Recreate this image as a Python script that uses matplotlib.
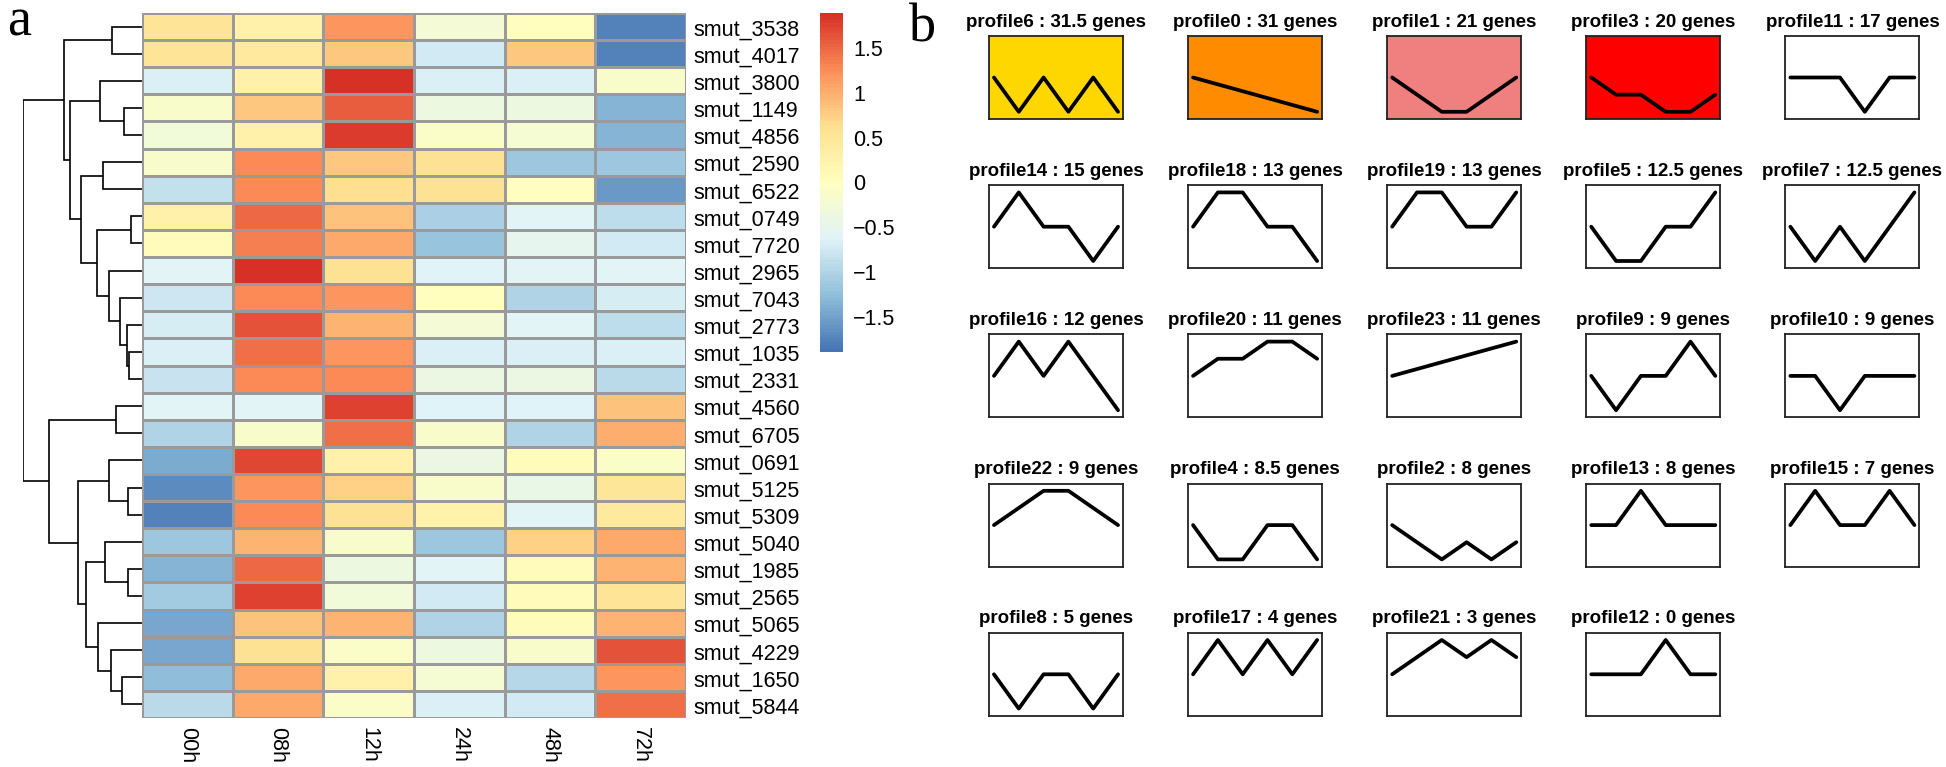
import numpy as np
import matplotlib
matplotlib.use("Agg")
import matplotlib.pyplot as plt
from matplotlib.colors import LinearSegmentedColormap, Normalize
from matplotlib.cm import ScalarMappable
from matplotlib.transforms import offset_copy

# ---------------- data ----------------
genes = ["smut_3538", "smut_4017", "smut_3800", "smut_1149", "smut_4856",
         "smut_2590", "smut_6522", "smut_0749", "smut_7720", "smut_2965",
         "smut_7043", "smut_2773", "smut_1035", "smut_2331", "smut_4560",
         "smut_6705", "smut_0691", "smut_5125", "smut_5309", "smut_5040",
         "smut_1985", "smut_2565", "smut_5065", "smut_4229", "smut_1650",
         "smut_5844"]
timepoints = ["00h", "08h", "12h", "24h", "48h", "72h"]

expr = [
    [0.55, 0.30, 1.20, -0.25, 0.00, -1.75],
    [0.55, 0.45, 0.80, -0.72, 0.80, -1.75],
    [-0.68, 0.30, 1.90, -0.68, -0.65, -0.15],
    [-0.15, 0.80, 1.55, -0.35, -0.35, -1.35],
    [-0.30, 0.30, 1.80, -0.10, -0.20, -1.35],
    [-0.15, 1.25, 0.80, 0.60, -1.15, -1.15],
    [-0.85, 1.25, 0.62, 0.60, 0.02, -1.55],
    [0.30, 1.50, 0.85, -1.05, -0.60, -0.90],
    [0.05, 1.35, 1.05, -1.20, -0.50, -0.75],
    [-0.60, 1.90, 0.60, -0.62, -0.60, -0.60],
    [-0.78, 1.25, 1.20, 0.00, -1.00, -0.70],
    [-0.70, 1.65, 0.95, -0.25, -0.58, -0.90],
    [-0.68, 1.45, 1.20, -0.66, -0.65, -0.68],
    [-0.82, 1.25, 1.25, -0.40, -0.40, -0.92],
    [-0.58, -0.60, 1.75, -0.62, -0.62, 0.85],
    [-1.00, -0.15, 1.45, -0.15, -1.00, 1.00],
    [-1.40, 1.72, 0.30, -0.40, 0.05, -0.10],
    [-1.70, 1.20, 0.72, -0.12, -0.45, 0.50],
    [-1.75, 1.25, 0.60, 0.25, -0.60, 0.45],
    [-1.15, 0.95, -0.15, -1.15, 0.75, 1.05],
    [-1.35, 1.50, -0.35, -0.60, 0.05, 0.95],
    [-1.12, 1.75, -0.30, -0.75, 0.05, 0.55],
    [-1.45, 0.85, 0.95, -1.00, 0.05, 0.95],
    [-1.45, 0.60, -0.08, -0.35, -0.15, 1.65],
    [-1.25, 1.05, 0.30, -0.20, -0.98, 1.20],
    [-0.92, 1.05, -0.10, -0.68, -0.72, 1.45],
]

# row dendrogram: (child_a, child_b, height); leaves 0..25, clusters 26..
merges = [
    (0, 1, 30), (3, 4, 18), (2, 27, 42), (5, 6, 39), (7, 8, 11),
    (12, 13, 13), (11, 31, 15), (10, 32, 22), (9, 33, 33), (30, 34, 45),
    (29, 35, 61), (28, 36, 72), (26, 37, 78), (14, 15, 26), (17, 18, 14),
    (16, 40, 33), (20, 21, 14), (19, 42, 37), (24, 25, 20), (23, 44, 31),
    (22, 45, 44), (43, 46, 56), (41, 47, 64), (39, 48, 93), (38, 49, 119),
]

cbar_ticks = [-1.5, -1, -0.5, 0, 0.5, 1, 1.5]
cbar_labels = ["\u22121.5", "\u22121", "\u22120.5", "0", "0.5", "1", "1.5"]
value_range = (-1.89, 1.89)
palette = ["#4575B4", "#91BFDB", "#E0F3F8", "#FFFFBF", "#FEE090", "#FC8D59", "#D73027"]

profile_ids = [6, 0, 1, 3, 11, 14, 18, 19, 5, 7, 16, 20, 23, 9, 10, 22, 4, 2, 13, 15, 8, 17, 21, 12]
profile_counts = [31.5, 31, 21, 20, 17, 15, 13, 13, 12.5, 12.5, 12, 11, 11, 9, 9, 9, 8.5, 8, 8, 7, 5, 4, 3, 0]
profile_values = [
    [0, -1, 0, -1, 0, -1],
    [0, -1, -2, -3, -4, -5],
    [0, -1, -2, -2, -1, 0],
    [0, -1, -1, -2, -2, -1],
    [0, 0, 0, -1, 0, 0],
    [0, 1, 0, 0, -1, 0],
    [0, 1, 1, 0, 0, -1],
    [0, 1, 1, 0, 0, 1],
    [0, -1, -1, 0, 0, 1],
    [0, -1, 0, -1, 0, 1],
    [0, 1, 0, 1, 0, -1],
    [0, 1, 1, 2, 2, 1],
    [0, 1, 2, 3, 4, 5],
    [0, -1, 0, 0, 1, 0],
    [0, 0, -1, 0, 0, 0],
    [0, 1, 2, 2, 1, 0],
    [0, -1, -1, 0, 0, -1],
    [0, -1, -2, -1, -2, -1],
    [0, 0, 1, 0, 0, 0],
    [0, 1, 0, 0, 1, 0],
    [0, -1, 0, 0, -1, 0],
    [0, 1, 0, 1, 0, 1],
    [0, 1, 2, 1, 2, 1],
    [0, 0, 0, 1, 0, 0],
]
profile_colors = ["#FFD700", "#FF8C00", "#F08080", "#FF0000"] + ["white"] * 20

# ---------------- figure ----------------
W, H, DPI = 1946, 767, 100
fig = plt.figure(figsize=(W / DPI, H / DPI), dpi=DPI)
fig.patch.set_facecolor("white")
SANS = ["Liberation Sans", "DejaVu Sans"]
SERIF = ["Liberation Serif", "DejaVu Serif"]


def px_axes(x0, y0, x1, y1):
    return fig.add_axes([x0 / W, 1 - y1 / H, (x1 - x0) / W, (y1 - y0) / H])


# heatmap
data = np.array(expr)
nrow, ncol = data.shape
cmap = LinearSegmentedColormap.from_list("rdylbu_r", palette, N=100)
norm = Normalize(vmin=value_range[0], vmax=value_range[1])

hx0, hy0, hx1, hy1 = 142, 13, 686, 718
ax = px_axes(hx0, hy0, hx1, hy1)
ax.pcolormesh(np.arange(ncol + 1), np.arange(nrow + 1), data, cmap=cmap, norm=norm,
              edgecolors="#9a9a9a", linewidth=1.0)
ax.set_xlim(0, ncol)
ax.set_ylim(nrow, 0)
ax.axis("off")

tr_row = offset_copy(ax.transData, fig=fig, x=7, y=-1, units="dots")
for i, g in enumerate(genes):
    ax.text(ncol, i + 0.5, g, transform=tr_row, ha="left", va="center_baseline",
            fontsize=15.5, family=SANS)
tr_col = offset_copy(ax.transData, fig=fig, x=0, y=-9, units="dots")
for j, t in enumerate(timepoints):
    ax.text(j + 0.5, nrow, t, transform=tr_col, ha="center", va="top",
            rotation=270, fontsize=15.5, family=SANS)

# dendrogram
dax = px_axes(23, hy0, hx1 and hx0, hy1)
pos = {i: i + 0.5 for i in range(nrow)}
hgt = {i: 0.0 for i in range(nrow)}
for k, (a, b, h) in enumerate(merges):
    cid = nrow + k
    ya, yb = pos[a], pos[b]
    dax.plot([hgt[a], h, h, hgt[b]], [ya, ya, yb, yb], color="black", lw=1.2,
             solid_capstyle="butt", solid_joinstyle="miter")
    pos[cid] = (ya + yb) / 2
    hgt[cid] = h
root_h = merges[-1][2]
dax.set_xlim(root_h, 0)
dax.set_ylim(nrow, 0)
dax.axis("off")

# colorbar
cax = px_axes(820, 13, 843, 352)
cb = fig.colorbar(ScalarMappable(norm=norm, cmap=cmap), cax=cax)
cb.outline.set_visible(False)
cb.set_ticks(cbar_ticks)
cb.set_ticklabels(cbar_labels)
cax.tick_params(length=0, pad=7.5, labelsize=15.5)
for lab in cax.get_yticklabels():
    lab.set_family(SANS)

# panel letters
fig.text(7 / W, 1 - 35 / H, "a", fontsize=39, family=SERIF, va="baseline", ha="left")
fig.text(909 / W, 1 - 42 / H, "b", fontsize=39, family=SERIF, va="baseline", ha="left")

# profiles
bw, bh = 134, 83
for k, (pid, cnt, vals, fc) in enumerate(zip(profile_ids, profile_counts, profile_values, profile_colors)):
    r, c = divmod(k, 5)
    x0 = 989 + 199.1 * c
    y0 = 36 + 149.2 * r
    pax = px_axes(x0, y0, x0 + bw, y0 + bh)
    pax.set_facecolor(fc)
    m = max(abs(v) for v in vals)
    pax.plot(range(len(vals)), vals, color="black", lw=2.7, solid_joinstyle="round",
             solid_capstyle="round")
    pax.set_xlim(-0.2, len(vals) - 1 + 0.2)
    pax.set_ylim(-1.21 * m, 1.21 * m)
    pax.set_xticks([])
    pax.set_yticks([])
    for s in pax.spines.values():
        s.set_linewidth(1.3)
        s.set_color("#222222")
    pax.set_title(f"profile{pid} : {cnt:g} genes", fontsize=13.5, fontweight="bold",
                  family=SANS, pad=6.7)

fig.savefig("out.png", dpi=DPI, facecolor="white")
